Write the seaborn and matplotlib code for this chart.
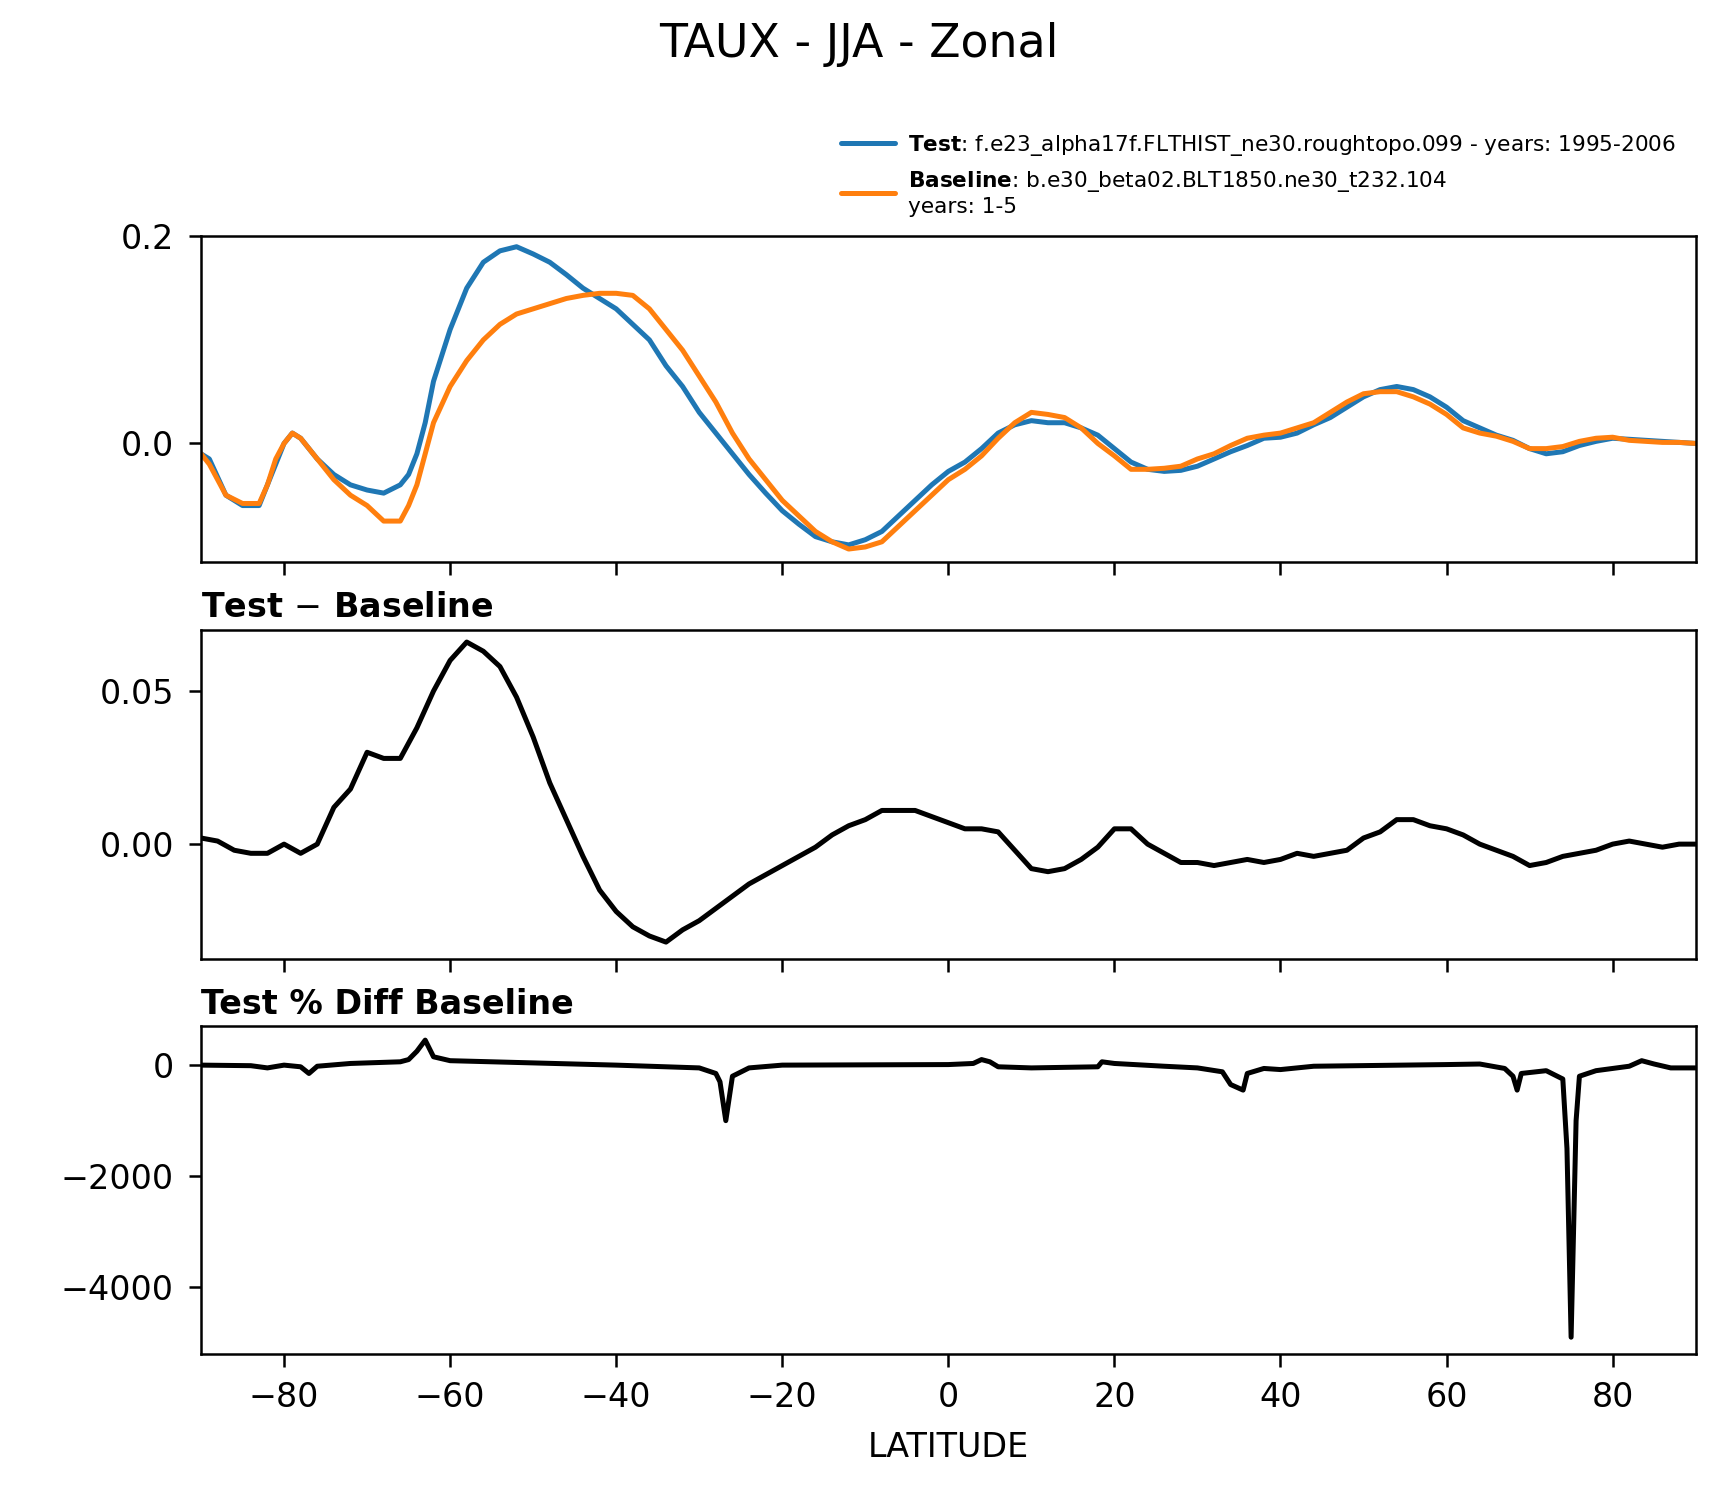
import numpy as np
import matplotlib
matplotlib.use("Agg")
import matplotlib.pyplot as plt
import seaborn as sns

test_lat = [-90, -89, -87, -85, -83, -82, -81, -80, -79, -78, -76, -74, -72, -70, -68, -66, -65, -64, -63, -62,
            -60, -58, -56, -54, -52, -50, -48, -46, -44, -42, -40, -38, -36, -34, -32, -30, -28, -26, -24, -22,
            -20, -18, -16, -14, -12, -10, -8, -6, -4, -2, 0, 2, 4, 6, 8, 10, 12, 14, 16, 18,
            20, 22, 24, 26, 28, 30, 32, 34, 36, 38, 40, 42, 44, 46, 48, 50, 52, 54, 56, 58,
            60, 62, 64, 66, 68, 70, 72, 74, 76, 78, 80, 82, 84, 86, 88, 90]
test_vals = [-0.01, -0.015, -0.05, -0.06, -0.06, -0.04, -0.02, 0.0, 0.01, 0.005, -0.015, -0.03, -0.04, -0.045, -0.048, -0.04, -0.03, -0.01, 0.02, 0.06,
             0.11, 0.15, 0.175, 0.186, 0.19, 0.183, 0.175, 0.163, 0.15, 0.14, 0.13, 0.115, 0.1, 0.075, 0.055, 0.03, 0.01, -0.01, -0.03, -0.048,
             -0.065, -0.078, -0.09, -0.095, -0.098, -0.093, -0.085, -0.07, -0.055, -0.04, -0.027, -0.018, -0.005, 0.01, 0.018, 0.022, 0.02, 0.02, 0.015, 0.008,
             -0.005, -0.018, -0.025, -0.027, -0.026, -0.022, -0.015, -0.008, -0.002, 0.005, 0.006, 0.01, 0.018, 0.025, 0.035, 0.045, 0.052, 0.055, 0.052, 0.045,
             0.035, 0.022, 0.015, 0.008, 0.003, -0.005, -0.01, -0.008, -0.002, 0.002, 0.005, 0.004, 0.003, 0.002, 0.001, 0.0]
base_vals = [-0.01, -0.02, -0.05, -0.058, -0.058, -0.04, -0.015, 0.0, 0.01, 0.005, -0.015, -0.035, -0.05, -0.06, -0.075, -0.075, -0.06, -0.04, -0.01, 0.02,
             0.055, 0.08, 0.1, 0.115, 0.125, 0.13, 0.135, 0.14, 0.143, 0.145, 0.145, 0.143, 0.13, 0.11, 0.09, 0.065, 0.04, 0.01, -0.015, -0.035,
             -0.055, -0.07, -0.085, -0.095, -0.102, -0.1, -0.095, -0.08, -0.065, -0.05, -0.035, -0.025, -0.012, 0.005, 0.02, 0.03, 0.028, 0.025, 0.015, 0.0,
             -0.012, -0.025, -0.025, -0.024, -0.022, -0.015, -0.01, -0.002, 0.005, 0.008, 0.01, 0.015, 0.02, 0.03, 0.04, 0.048, 0.05, 0.05, 0.045, 0.038,
             0.028, 0.015, 0.01, 0.007, 0.002, -0.005, -0.005, -0.003, 0.002, 0.005, 0.006, 0.003, 0.002, 0.001, 0.001, 0.0]

diff_lat = list(range(-90, 92, 2))
diff_vals = [0.002, 0.001, -0.002, -0.003, -0.003, 0.0, -0.003, 0.0, 0.012, 0.018,
             0.03, 0.028, 0.028, 0.038, 0.05, 0.06, 0.066, 0.063, 0.058, 0.048,
             0.035, 0.02, 0.008, -0.004, -0.015, -0.022, -0.027, -0.03, -0.032, -0.028,
             -0.025, -0.021, -0.017, -0.013, -0.01, -0.007, -0.004, -0.001, 0.003, 0.006,
             0.008, 0.011, 0.011, 0.011, 0.009, 0.007, 0.005, 0.005, 0.004, -0.002,
             -0.008, -0.009, -0.008, -0.005, -0.001, 0.005, 0.005, 0.0, -0.003, -0.006,
             -0.006, -0.007, -0.006, -0.005, -0.006, -0.005, -0.003, -0.004, -0.003, -0.002,
             0.002, 0.004, 0.008, 0.008, 0.006, 0.005, 0.003, 0.0, -0.002, -0.004,
             -0.007, -0.006, -0.004, -0.003, -0.002, 0.0, 0.001, 0.0, -0.001, 0.0, 0.0]

pct_lat = [-90, -84, -82, -80, -78, -77, -76, -72, -66, -65, -64, -63, -62, -60, -40, -30, -28, -27.5, -26.8, -26,
           -24, -20, 0, 3, 4, 5, 6, 10, 18, 18.5, 20, 26, 30, 33, 34, 35.5, 36, 38, 40, 44,
           60, 64, 67, 68, 68.5, 69, 72, 74, 74.5, 75, 75.6, 76, 78, 82, 83.5, 85, 87, 90]
pct_vals = [0, -10, -50, 0, -30, -150, -20, 30, 60, 100, 250, 450, 150, 80, 0, -50, -150, -300, -1000, -200,
            -50, 0, 10, 30, 100, 60, -30, -50, -30, 60, 30, -20, -50, -120, -350, -450, -150, -60, -80, -20,
            10, 20, -60, -200, -450, -150, -100, -250, -1500, -4900, -1000, -200, -100, -20, 80, 20, -50, -50]

sns.set_style("ticks", rc={'text.color': 'black', 'axes.labelcolor': 'black',
                           'xtick.color': 'black', 'ytick.color': 'black', 'axes.edgecolor': 'black'})
plt.rcParams['font.family'] = ['DejaVu Sans']
fig = plt.figure(figsize=(1718 / 300, 1496 / 300), dpi=300)
ax1 = fig.add_axes([0.117, 0.624, 0.87, 0.218])
ax2 = fig.add_axes([0.117, 0.359, 0.87, 0.220])
ax3 = fig.add_axes([0.117, 0.095, 0.87, 0.219])

sns.lineplot(x=test_lat, y=test_vals, ax=ax1, color='#1f77b4', lw=1.2,
             label=r'$\bf{Test}$: f.e23_alpha17f.FLTHIST_ne30.roughtopo.099 - years: 1995-2006')
sns.lineplot(x=test_lat, y=base_vals, ax=ax1, color='#ff7f0e', lw=1.2,
             label=r'$\bf{Baseline}$: b.e30_beta02.BLT1850.ne30_t232.104' + '\nyears: 1-5')
ax1.set_ylim(-0.115, 0.2)
ax1.set_yticks([0.0, 0.2])
ax1.legend(loc='lower right', bbox_to_anchor=(1.0, 1.0), fontsize=5.2, frameon=False,
           handlelength=2.5, handletextpad=0.6)

sns.lineplot(x=diff_lat, y=diff_vals, ax=ax2, color='black', lw=1.2)
ax2.set_ylim(-0.0375, 0.07)
ax2.set_yticks([0.0, 0.05])
ax2.set_yticklabels(['0.00', '0.05'])
ax2.set_title(r'Test $-$ Baseline', loc='left', fontsize=8, fontweight='bold', pad=3)

sns.lineplot(x=pct_lat, y=pct_vals, ax=ax3, color='black', lw=1.2)
ax3.set_ylim(-5200, 700)
ax3.set_yticks([-4000, -2000, 0])
ax3.set_title('Test % Diff Baseline', loc='left', fontsize=8, fontweight='bold', pad=3)
ax3.set_xlabel('LATITUDE', fontsize=8)

for ax in (ax1, ax2, ax3):
    ax.set_xlim(-90, 90)
    ax.set_xticks(range(-80, 81, 20))
    ax.tick_params(labelsize=8, width=0.6, length=3)
    for s in ax.spines.values():
        s.set_linewidth(0.6)
for ax in (ax1, ax2):
    ax.set_xticklabels([])

fig.suptitle('TAUX - JJA - Zonal', fontsize=11, y=0.985)
fig.savefig('out.png', dpi=300)
